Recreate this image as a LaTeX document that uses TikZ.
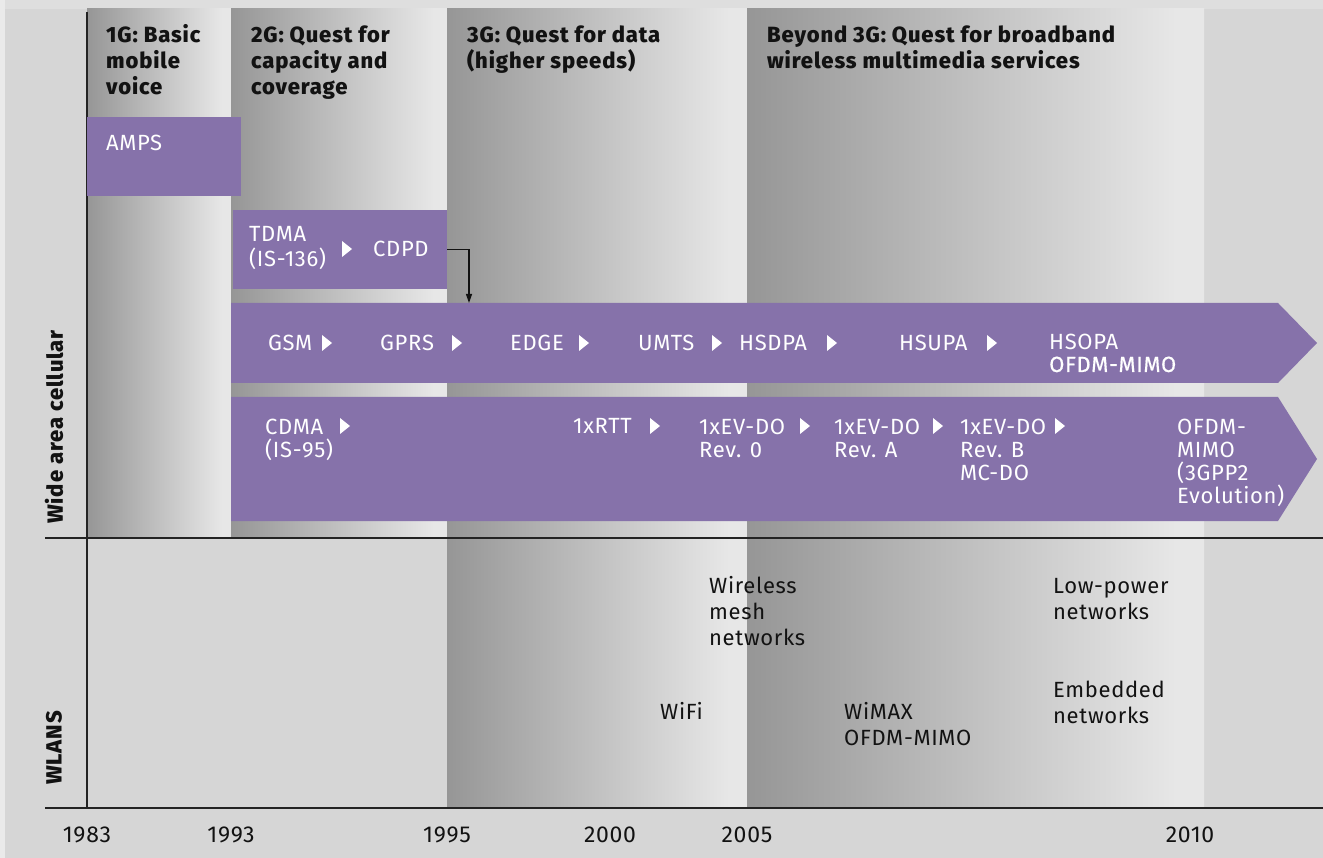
\documentclass[tikz,border=0pt]{standalone}
\usepackage{fontspec}
\setmainfont{Fira Sans}[LetterSpace=3]
\IfFontExistsTF{Fira Sans ExtraBold}
  {\newfontfamily\hdfont{Fira Sans ExtraBold}[LetterSpace=4]}
  {\newfontfamily\hdfontbase{Fira Sans}[LetterSpace=4]\newcommand\hdfont{\hdfontbase\bfseries}}
\newfontfamily\medfont{Fira Sans}[LetterSpace=3,FakeBold=0.6]
\usetikzlibrary{arrows.meta}

\definecolor{bgray}{RGB}{214,214,214}
\definecolor{edgegray}{RGB}{234,234,234}
\definecolor{topgray}{RGB}{222,222,222}
\definecolor{coldark}{RGB}{150,150,150}
\definecolor{collight}{RGB}{231,231,231}
\definecolor{tech}{RGB}{134,114,170}
\definecolor{ink}{RGB}{18,18,18}
\definecolor{axisgray}{RGB}{35,35,35}

% left-to-right fade used for every era band
\pgfdeclarehorizontalshading{eraband}{100bp}{color(0bp)=(coldark); color(25bp)=(coldark); color(72bp)=(collight); color(100bp)=(collight)}

% small white pointer between technology names
\newcommand\steptip[2]{\fill[white] (#1,#2) -- ++(0,-16) -- ++(10,8) -- cycle;}

% multi-line nodes are placed by the baseline of their last line
\tikzset{
  techbox/.style={fill=tech, draw=none, inner sep=0pt, anchor=north west},
  techlbl/.style={anchor=base west, inner sep=0pt, text=white, align=left, font=\fontsize{22}{23}\selectfont},
  erahead/.style={anchor=base west, inner sep=0pt, text=ink, align=left, font=\hdfont\fontsize{22}{26}\selectfont},
  wlan/.style={anchor=base west, inner sep=0pt, text=ink, align=left, font=\fontsize{22}{26}\selectfont},
  year/.style={anchor=base, inner sep=0pt, text=ink, font=\fontsize{23}{26}\selectfont},
  sidelbl/.style={rotate=90, inner sep=0pt, text=ink, font=\hdfont\fontsize{22}{26}\selectfont},
  axisline/.style={draw=axisgray, line width=1.3pt},
  link/.style={draw=ink, line width=1.2pt, -{Triangle[length=9pt,width=6pt]}}
}

\begin{document}
\begin{tikzpicture}[x=1pt,y=-1pt]
\useasboundingbox (0,0) rectangle (1323,858);

% background
\fill[bgray] (0,0) rectangle (1323,858);
\fill[edgegray] (0,0) rectangle (5,858);
\fill[topgray] (5,0) rectangle (1323,9);

% era bands
\shade[shading=eraband] (87,9) rectangle (231,538);
\shade[shading=eraband] (231,9) rectangle (447,538);
\shade[shading=eraband] (447,9) rectangle (747,808);
\shade[shading=eraband] (747,9) rectangle (1204,808);

% axes
\draw[axisline] (87,12) -- (87,808);
\draw[axisline] (45,538) -- (1323,538);
\draw[axisline] (45,808) -- (1323,808);

% era headings
\node[erahead] (h1) at (106,95) {1G: Basic\\mobile\\voice};
\node[erahead] (h2) at (251,95) {2G: Quest for\\capacity and\\coverage};
\node[erahead] (h3) at (467,69) {3G: Quest for data\\(higher speeds)};
\node[erahead] (h4) at (767,69) {Beyond 3G: Quest for broadband\\wireless multimedia services};

% technology boxes
\node[techbox, minimum width=154pt, minimum height=79pt] (amps) at (87,117) {};
\node[techbox, minimum width=214pt, minimum height=79pt] (tdma) at (233,210) {};
\fill[tech] (231,303) -- (1278,303) -- (1317,343) -- (1278,383) -- (231,383) -- cycle;
\fill[tech] (231,397) -- (1278,397) -- (1317,459) -- (1278,521) -- (231,521) -- cycle;
\coordinate (gsmin) at (469,303);

% CDPD feeds into the GSM track
\draw[link] (tdma.east) -| (gsmin);

% technology names
\node[techlbl] (tAMPS) at (106,151) {AMPS};
\node[techlbl, font=\fontsize{22}{25}\selectfont] (tTDMA) at (249,267) {TDMA\\(IS-136)};
\node[techlbl] (tCDPD) at (373,257) {CDPD};
\steptip{342}{257}

\node[techlbl] (tGSM) at (268,351) {GSM};
\node[techlbl] (tGPRS) at (380,351) {GPRS};
\node[techlbl] (tEDGE) at (510,351) {EDGE};
\node[techlbl] (tUMTS) at (638,351) {UMTS};
\node[techlbl] (tHSDPA) at (739,351) {HSDPA};
\node[techlbl] (tHSUPA) at (899,351) {HSUPA};
\node[techlbl, font=\fontsize{22}{22}\selectfont] (tHSOPA) at (1049,372) {HSOPA\\{\medfont OFDM-MIMO}};
\steptip{322}{351}
\steptip{452}{351}
\steptip{579}{351}
\steptip{712}{351}
\steptip{827}{351}
\steptip{987}{351}

\node[techlbl] (tCDMA) at (265,457) {CDMA\\(IS-95)};
\node[techlbl] (tRTT) at (573,434) {1xRTT};
\node[techlbl] (tDO0) at (699,457) {1xEV-DO\\Rev. 0};
\node[techlbl] (tDOA) at (834,457) {1xEV-DO\\Rev. A};
\node[techlbl] (tDOB) at (960,480) {1xEV-DO\\Rev. B\\MC-DO};
\node[techlbl] (tOFDM) at (1177,503) {OFDM-\\MIMO\\(3GPP2\\Evolution)};
\steptip{340}{434}
\steptip{650}{434}
\steptip{800}{434}
\steptip{933}{434}
\steptip{1055}{434}

% WLAN entries
\node[wlan] (mesh) at (709,645) {Wireless\\mesh\\networks};
\node[wlan] (lowpow) at (1053,619) {Low-power\\networks};
\node[wlan] (embed) at (1053,723) {Embedded\\networks};
\node[wlan] (wifi) at (660,719) {WiFi};
\node[wlan] (wimax) at (844,745) {WiMAX\\OFDM-MIMO};

% row labels
\node[sidelbl] (cellular) at (54,427) {Wide area cellular};
\node[sidelbl] (wlans) at (54,748) {WLANS};

% years
\node[year] (y1983) at (87,842) {1983};
\node[year] (y1993) at (231,842) {1993};
\node[year] (y1995) at (447,842) {1995};
\node[year] (y2000) at (610,842) {2000};
\node[year] (y2005) at (747,842) {2005};
\node[year] (y2010) at (1190,842) {2010};
\end{tikzpicture}
\end{document}
